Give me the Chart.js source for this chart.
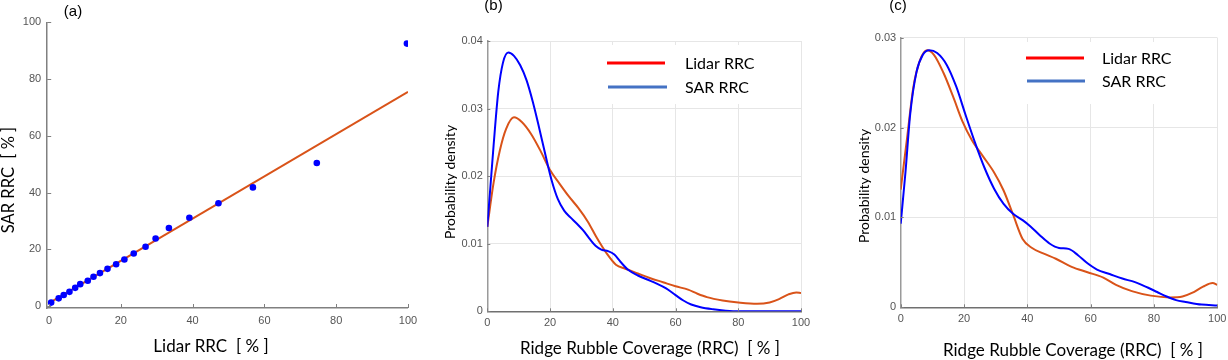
<!DOCTYPE html>
<html>
<head>
<meta charset="utf-8">
<script src="https://cdn.jsdelivr.net/npm/chart.js@4.4.1/dist/chart.umd.min.js"></script>
<style>
  html, body { margin: 0; padding: 0; background: #fff; }
  #wrap { position: relative; width: 1228px; height: 360px; overflow: hidden; }
  #wrap canvas { position: absolute; left: 0; top: 0; }
</style>
</head>
<body>
<div id="wrap">
  <canvas id="ca" width="1228" height="360"></canvas>
  <canvas id="cb" width="1228" height="360"></canvas>
  <canvas id="cc" width="1228" height="360"></canvas>
</div>
<script>
// ---------- data ----------
// (a) scatter: Lidar RRC vs SAR RRC (%)
const aLidar = [0.6, 2.7, 4.1, 5.7, 7.3, 8.7, 10.8, 12.4, 14.2, 16.3, 18.7, 21.0, 23.6, 26.9, 29.7, 33.4, 39.1, 47.2, 56.8, 74.6, 99.7];
const aSar   = [1.2, 2.7, 3.9, 5.0, 6.4, 7.7, 8.9, 10.3, 11.6, 13.1, 14.7, 16.4, 18.5, 20.9, 23.8, 27.5, 31.1, 36.2, 41.8, 50.4, 92.5];
const aFitX  = [0, 100];
const aFitY  = [1.0, 75.5];
const aTicks = [0, 20, 40, 60, 80, 100];

// (b) probability density
const bLidarX = [0, 2, 4, 6, 8.5, 11, 14, 17, 20, 23, 26, 29, 32, 35, 38, 41, 44, 48, 52, 56, 60, 64, 67, 70, 75, 80, 86, 90, 93, 96, 98.5, 100];
const bLidarY = [0.0125, 0.0190, 0.0238, 0.0270, 0.0287, 0.0280, 0.0262, 0.0237, 0.0209, 0.0189, 0.0170, 0.0153, 0.0133, 0.0108, 0.0086, 0.0069, 0.0063, 0.0056, 0.0049, 0.0043, 0.0037, 0.0032, 0.0026, 0.0021, 0.0016, 0.0013, 0.0011, 0.0013, 0.0018, 0.0025, 0.0028, 0.0027];
const bSarX = [0, 1, 2, 3.5, 5, 6.7, 8.5, 10.5, 12.5, 14.5, 16.5, 18.5, 20.5, 22.5, 24.5, 26.5, 28.5, 30.5, 32.5, 34.5, 36.5, 38.5, 40.5, 42.5, 45, 48, 51, 54, 57, 60, 62.5, 65, 68, 72, 76, 80, 90, 100];
const bSarY = [0.0125, 0.0185, 0.0245, 0.0325, 0.0368, 0.0383, 0.0378, 0.0364, 0.0342, 0.0310, 0.0272, 0.0232, 0.0194, 0.0166, 0.0149, 0.0139, 0.0130, 0.0120, 0.0108, 0.0097, 0.0091, 0.0089, 0.0084, 0.0073, 0.0061, 0.0053, 0.0047, 0.0041, 0.0034, 0.0024, 0.0016, 0.0010, 0.0006, 0.0003, 0.0001, 0.0000, 0.0000, 0.0000];
const bYTicks = [0, 0.01, 0.02, 0.03, 0.04];

// (c) probability density
const cLidarX = [0, 2, 4, 6, 8.3, 10.5, 13.5, 16.5, 19.5, 22.5, 26, 29.5, 32.5, 35.5, 38.5, 41.5, 45, 49, 54, 59, 64, 68, 73, 79, 85, 89, 92, 95.5, 98.5, 100];
const cLidarY = [0.0131, 0.0188, 0.0245, 0.0274, 0.0286, 0.0281, 0.0261, 0.0235, 0.0207, 0.0186, 0.0168, 0.0150, 0.0130, 0.0103, 0.0076, 0.0066, 0.0060, 0.0054, 0.0045, 0.0039, 0.0033, 0.0025, 0.0018, 0.0013, 0.0011, 0.0012, 0.0016, 0.0023, 0.0027, 0.0025];
const cSarX = [0, 1.5, 3, 5, 7, 9, 11.5, 14.5, 17.5, 20.5, 23.5, 26.5, 29.5, 32.5, 35.5, 38.5, 41, 44, 47, 50, 53, 56, 59, 62, 66, 70, 74, 78, 81, 84, 87, 90, 95, 100];
const cSarY = [0.0093, 0.0150, 0.0215, 0.0262, 0.0281, 0.0286, 0.0283, 0.0270, 0.0246, 0.0214, 0.0183, 0.0155, 0.0132, 0.0115, 0.0104, 0.0097, 0.0090, 0.0080, 0.0071, 0.0066, 0.0065, 0.0058, 0.0049, 0.0042, 0.0037, 0.0032, 0.0028, 0.0022, 0.0017, 0.0012, 0.0008, 0.0006, 0.0003, 0.0002];
const cYTicks = [0, 0.01, 0.02, 0.03];

const xTicks = [0, 20, 40, 60, 80, 100];
const seriesNames = ['Lidar RRC', 'SAR RRC'];

// ---------- helpers ----------
const W = 1228, H = 360;
const YW = 40, XH = 24;   // fixed scale box sizes (room for tick labels)
const ORANGE = '#D95319', BLUE = '#0000FF';
const LEG_RED = '#FF0000', LEG_BLUE = '#4472C4';
const TICK_FONT = { family: '"Liberation Sans", Arial, sans-serif', size: 11 };
const TICK_COLOR = '#555555';
const CAL = 'Lato, "Noto Sans", sans-serif';

const toXY = (xs, ys) => xs.map((x, i) => ({ x: x, y: ys[i] }));
const fmt = v => String(+(+v).toFixed(3));

function fixedFit(scale) {
  if (scale.isHorizontal()) scale.height = XH; else scale.width = YW;
  scale.paddingLeft = 0; scale.paddingRight = 0; scale.paddingTop = 0; scale.paddingBottom = 0;
}
function setTicks(values) {
  return scale => { scale.ticks = values.map(v => ({ value: v })); };
}

// draws panel texts, inward ticks and legend
const decorPlugin = {
  id: 'decor',
  afterDraw(chart, args, opts) {
    const ctx = chart.ctx;
    const ca = chart.chartArea;
    ctx.save();
    if (opts.inTicks) {
      ctx.strokeStyle = opts.axisColor || '#808080';
      ctx.lineWidth = 1;
      const xs = chart.scales.x, ys = chart.scales.y;
      xs.ticks.forEach(t => {
        const px = Math.round(xs.getPixelForValue(t.value)) + 0.5;
        ctx.beginPath(); ctx.moveTo(px, ca.bottom); ctx.lineTo(px, ca.bottom - opts.inTicks); ctx.stroke();
      });
      ys.ticks.forEach(t => {
        const py = Math.round(ys.getPixelForValue(t.value)) + 0.5;
        ctx.beginPath(); ctx.moveTo(ca.left, py); ctx.lineTo(ca.left + opts.inTicks, py); ctx.stroke();
      });
    }
    if (opts.legend) {
      const L = opts.legend;
      ctx.fillStyle = '#ffffff';
      ctx.fillRect(L.box[0], L.box[1], L.box[2], L.box[3]);
      L.items.forEach(it => {
        ctx.strokeStyle = it.color; ctx.lineWidth = 3;
        ctx.beginPath(); ctx.moveTo(it.x0, it.y); ctx.lineTo(it.x1, it.y); ctx.stroke();
        ctx.fillStyle = '#000'; ctx.font = '16px ' + CAL;
        ctx.textAlign = 'left'; ctx.textBaseline = 'middle';
        ctx.fillText(it.text, it.tx, it.y + 1);
      });
    }
    (opts.texts || []).forEach(t => {
      ctx.save();
      ctx.fillStyle = t.color || '#000';
      ctx.font = t.font;
      ctx.textAlign = 'center'; ctx.textBaseline = 'middle';
      ctx.translate(t.x, t.y);
      if (t.rot) ctx.rotate(t.rot);
      ctx.fillText(t.text, 0, 0);
      ctx.restore();
    });
    ctx.restore();
  }
};

// padding so that the chart area lands on [l, r] x [t, b]
function areaPadding(l, t, r, b) {
  return { left: l - YW, top: t, right: W - r, bottom: H - b - XH };
}

// ---------- panel (a) ----------
new Chart(document.getElementById('ca'), {
  type: 'scatter',
  data: {
    datasets: [
      { type: 'scatter', data: toXY(aLidar, aSar), backgroundColor: BLUE, borderWidth: 0, pointRadius: 3.3, order: 0 },
      { type: 'line', data: toXY(aFitX, aFitY), borderColor: ORANGE, borderWidth: 2, pointRadius: 0, fill: false, order: 1 }
    ]
  },
  options: {
    responsive: false, animation: false, devicePixelRatio: 1,
    layout: { padding: areaPadding(47.2, 22.3, 408, 308) },
    plugins: {
      legend: { display: false }, tooltip: { enabled: false },
      decor: {
        inTicks: 4, axisColor: '#808080',
        texts: [
          { text: '(a)', x: 73, y: 12, font: '15px "Liberation Sans", Arial, sans-serif' },
          { text: 'Lidar RRC  [ % ]', x: 211, y: 347, font: '17px ' + CAL },
          { text: 'SAR RRC  [ % ]', x: 9, y: 180, rot: -Math.PI / 2, font: '16.5px ' + CAL }
        ]
      }
    },
    scales: {
      x: {
        type: 'linear', min: -0.5, max: 100,
        afterFit: fixedFit, afterBuildTicks: setTicks(aTicks),
        grid: { display: false, drawTicks: false },
        border: { display: true, color: '#808080', width: 1.5 },
        ticks: { font: TICK_FONT, color: TICK_COLOR, padding: 6, callback: fmt, maxRotation: 0, autoSkip: false }
      },
      y: {
        type: 'linear', min: -0.7, max: 100,
        afterFit: fixedFit, afterBuildTicks: setTicks(aTicks),
        grid: { display: false, drawTicks: false },
        border: { display: true, color: '#808080', width: 1.5 },
        ticks: { font: TICK_FONT, color: TICK_COLOR, padding: 6, callback: fmt, autoSkip: false }
      }
    }
  },
  plugins: [decorPlugin]
});

// ---------- density panels ----------
function densityChart(id, area, yMax, yTicks, lx, ly, sx, sy, deco) {
  return new Chart(document.getElementById(id), {
    type: 'line',
    data: {
      datasets: [
        { label: seriesNames[1], data: toXY(sx, sy), borderColor: BLUE, borderWidth: 2, pointRadius: 0, fill: false, cubicInterpolationMode: 'monotone', order: 0 },
        { label: seriesNames[0], data: toXY(lx, ly), borderColor: ORANGE, borderWidth: 2, pointRadius: 0, fill: false, cubicInterpolationMode: 'monotone', order: 1 }
      ]
    },
    options: {
      responsive: false, animation: false, devicePixelRatio: 1,
      layout: { padding: areaPadding(area[0], area[1], area[2], area[3]) },
      plugins: { legend: { display: false }, tooltip: { enabled: false }, decor: deco },
      scales: {
        x: {
          type: 'linear', min: 0, max: 100,
          afterFit: fixedFit, afterBuildTicks: setTicks(xTicks),
          grid: { display: true, color: '#e6e6e6', lineWidth: 1, drawTicks: false },
          border: { display: true, color: '#707070', width: 1.5 },
          ticks: { font: TICK_FONT, color: TICK_COLOR, padding: 5, callback: fmt, maxRotation: 0, autoSkip: false }
        },
        y: {
          type: 'linear', min: 0, max: yMax,
          afterFit: fixedFit, afterBuildTicks: setTicks(yTicks),
          grid: { display: true, color: '#e6e6e6', lineWidth: 1, drawTicks: false },
          border: { display: true, color: '#9a9a9a', width: 1.5 },
          ticks: { font: TICK_FONT, color: TICK_COLOR, padding: 4.5, callback: fmt, autoSkip: false }
        }
      }
    },
    plugins: [decorPlugin]
  });
}

densityChart('cb', [487.3, 41, 801, 311.3], 0.04, bYTicks, bLidarX, bLidarY, bSarX, bSarY, {
  inTicks: 3, axisColor: '#808080',
  legend: {
    box: [596, 45, 194, 59],
    items: [
      { text: seriesNames[0], color: LEG_RED, x0: 607, x1: 665, y: 63, tx: 685 },
      { text: seriesNames[1], color: LEG_BLUE, x0: 608, x1: 667, y: 87, tx: 685 }
    ]
  },
  texts: [
    { text: '(b)', x: 493.5, y: 6, font: '15px "Liberation Sans", Arial, sans-serif' },
    { text: 'Ridge Rubble Coverage (RRC)  [ % ]', x: 650, y: 349, font: '17px ' + CAL },
    { text: 'Probability density', x: 450, y: 182, rot: -Math.PI / 2, font: '14px ' + CAL }
  ]
});

densityChart('cc', [900.7, 37.7, 1217.3, 307.3], 0.03, cYTicks, cLidarX, cLidarY, cSarX, cSarY, {
  inTicks: 3, axisColor: '#808080',
  legend: {
    box: [1013, 42, 202, 62],
    items: [
      { text: seriesNames[0], color: LEG_RED, x0: 1026, x1: 1084, y: 58, tx: 1102 },
      { text: seriesNames[1], color: LEG_BLUE, x0: 1027, x1: 1085, y: 81, tx: 1102 }
    ]
  },
  texts: [
    { text: '(c)', x: 898, y: 6, font: '15px "Liberation Sans", Arial, sans-serif' },
    { text: 'Ridge Rubble Coverage (RRC)  [ % ]', x: 1073, y: 351, font: '17px ' + CAL },
    { text: 'Probability density', x: 864, y: 186, rot: -Math.PI / 2, font: '14px ' + CAL }
  ]
});
</script>
</body>
</html>
